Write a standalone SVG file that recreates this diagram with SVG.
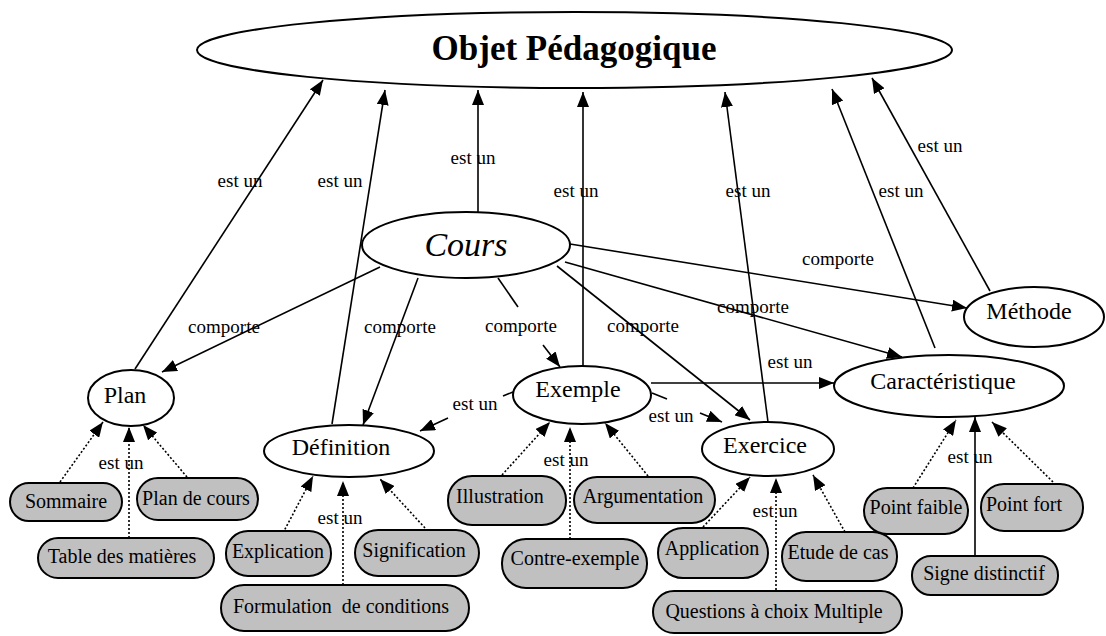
<svg xmlns="http://www.w3.org/2000/svg" width="1106" height="636" viewBox="0 0 1106 636">
  <defs>
    <marker id="arrow" viewBox="0 0 15 12" refX="15" refY="6" markerWidth="15" markerHeight="12" markerUnits="userSpaceOnUse" orient="auto">
      <path d="M0,0 L15,6 L0,12 z" fill="#000"/>
    </marker>
    <style>
      .concept { fill: #fff; stroke: #000; stroke-width: 2; }
      .leaf { fill: #c0c0c0; stroke: #000; stroke-width: 2; }
      .edge { fill: none; stroke: #000; stroke-width: 1.6; }
      .dot { fill: none; stroke: #000; stroke-width: 1.6; stroke-dasharray: 2 2; }
      text { font-family: "Liberation Serif", "Times New Roman", serif; fill: #000; text-anchor: middle; }
      .title { font-size: 35px; font-weight: bold; }
      .cours { font-size: 34px; font-style: italic; }
      .name { font-size: 24px; }
      .leaftext { font-size: 20px; }
      .lbl { font-size: 19px; }
    </style>
  </defs>
  <rect width="1106" height="636" fill="#fff"/>

  <!-- connectors -->
  <g id="connectors">
    <!-- est un : towards Objet Pédagogique -->
    <line class="edge" x1="135" y1="369" x2="323" y2="80" marker-end="url(#arrow)"/>
    <line class="edge" x1="332" y1="424" x2="385" y2="90" marker-end="url(#arrow)"/>
    <line class="edge" x1="478" y1="212" x2="478" y2="90" marker-end="url(#arrow)"/>
    <line class="edge" x1="583" y1="366" x2="583" y2="92" marker-end="url(#arrow)"/>
    <line class="edge" x1="768" y1="422" x2="725" y2="92" marker-end="url(#arrow)"/>
    <line class="edge" x1="935" y1="348" x2="832" y2="89" marker-end="url(#arrow)"/>
    <line class="edge" x1="990" y1="291" x2="872" y2="78" marker-end="url(#arrow)"/>

    <!-- comporte : from Cours -->
    <line class="edge" x1="380" y1="267" x2="162" y2="372" marker-end="url(#arrow)"/>
    <line class="edge" x1="418" y1="278" x2="363" y2="425" marker-end="url(#arrow)"/>
    <line class="edge" x1="498" y1="278" x2="518" y2="307"/>
    <line class="edge" x1="543" y1="345" x2="560" y2="367" marker-end="url(#arrow)"/>
    <line class="edge" x1="557" y1="266" x2="750" y2="420" marker-end="url(#arrow)"/>
    <line class="edge" x1="565" y1="262" x2="902" y2="357" marker-end="url(#arrow)"/>
    <line class="edge" x1="570" y1="244" x2="967" y2="308" marker-end="url(#arrow)"/>

    <!-- est un : from Exemple -->
    <line class="edge" x1="513" y1="392" x2="503" y2="396"/>
    <line class="edge" x1="448" y1="418" x2="420" y2="431" marker-end="url(#arrow)"/>
    <line class="edge" x1="652" y1="393" x2="667" y2="399"/>
    <line class="edge" x1="700" y1="413" x2="722" y2="422" marker-end="url(#arrow)"/>
    <line class="edge" x1="651" y1="383" x2="834" y2="383" marker-end="url(#arrow)"/>

    <!-- est un : Plan -->
    <line class="dot" x1="60" y1="482" x2="103" y2="422" marker-end="url(#arrow)"/>
    <line class="dot" x1="129" y1="538" x2="129" y2="427" marker-end="url(#arrow)"/>
    <line class="dot" x1="187" y1="477" x2="143" y2="425" marker-end="url(#arrow)"/>

    <!-- est un : Définition -->
    <line class="dot" x1="283" y1="533" x2="313" y2="476" marker-end="url(#arrow)"/>
    <line class="dot" x1="343" y1="585" x2="343" y2="481" marker-end="url(#arrow)"/>
    <line class="dot" x1="425" y1="528" x2="380" y2="479" marker-end="url(#arrow)"/>

    <!-- est un : Exemple -->
    <line class="dot" x1="502" y1="475" x2="550" y2="422" marker-end="url(#arrow)"/>
    <line class="dot" x1="570" y1="547" x2="570" y2="427" marker-end="url(#arrow)"/>
    <line class="dot" x1="648" y1="476" x2="605" y2="423" marker-end="url(#arrow)"/>

    <!-- est un : Exercice -->
    <line class="dot" x1="703" y1="527" x2="750" y2="477" marker-end="url(#arrow)"/>
    <line class="dot" x1="776" y1="590" x2="776" y2="478" marker-end="url(#arrow)"/>
    <line class="dot" x1="845" y1="532" x2="813" y2="475" marker-end="url(#arrow)"/>

    <!-- est un : Caractéristique -->
    <line class="dot" x1="913" y1="488" x2="956" y2="420" marker-end="url(#arrow)"/>
    <line class="edge" x1="975" y1="556" x2="975" y2="417" marker-end="url(#arrow)"/>
    <line class="dot" x1="1053" y1="482" x2="992" y2="422" marker-end="url(#arrow)"/>

    <!-- connector labels -->
    <text class="lbl" x="240" y="187">est un</text>
    <text class="lbl" x="340" y="187">est un</text>
    <text class="lbl" x="473" y="164">est un</text>
    <text class="lbl" x="576" y="197">est un</text>
    <text class="lbl" x="748" y="197">est un</text>
    <text class="lbl" x="901" y="197">est un</text>
    <text class="lbl" x="940" y="152">est un</text>
    <text class="lbl" x="224" y="333">comporte</text>
    <text class="lbl" x="400" y="333">comporte</text>
    <text class="lbl" x="521" y="332">comporte</text>
    <text class="lbl" x="643" y="332">comporte</text>
    <text class="lbl" x="753" y="313">comporte</text>
    <text class="lbl" x="838" y="265">comporte</text>
    <text class="lbl" x="475" y="410">est un</text>
    <text class="lbl" x="671" y="422">est un</text>
    <text class="lbl" x="790" y="368">est un</text>
    <text class="lbl" x="121" y="469">est un</text>
    <text class="lbl" x="340" y="524">est un</text>
    <text class="lbl" x="566" y="466">est un</text>
    <text class="lbl" x="775" y="517">est un</text>
    <text class="lbl" x="970" y="463">est un</text>
  </g>

  <!-- concepts -->
  <g id="objet-pedagogique">
    <ellipse class="concept" cx="574.5" cy="50" rx="377.5" ry="38"/>
    <text class="title" x="574" y="60">Objet Pédagogique</text>
  </g>
  <g id="cours">
    <ellipse class="concept" cx="466" cy="245" rx="104" ry="33"/>
    <text class="cours" x="466" y="256">Cours</text>
  </g>
  <g id="plan">
    <ellipse class="concept" cx="131" cy="398" rx="43" ry="28"/>
    <text class="name" x="125" y="403">Plan</text>
  </g>
  <g id="definition">
    <ellipse class="concept" cx="349" cy="451" rx="85" ry="26"/>
    <text class="name" x="341" y="455">Définition</text>
  </g>
  <g id="exemple">
    <ellipse class="concept" cx="582" cy="395" rx="69" ry="29"/>
    <text class="name" x="578" y="397">Exemple</text>
  </g>
  <g id="exercice">
    <ellipse class="concept" cx="768" cy="449" rx="66" ry="27"/>
    <text class="name" x="765" y="453">Exercice</text>
  </g>
  <g id="caracteristique">
    <ellipse class="concept" cx="949" cy="386" rx="115" ry="31"/>
    <text class="name" x="943" y="389">Caractéristique</text>
  </g>
  <g id="methode">
    <ellipse class="concept" cx="1034" cy="317" rx="70" ry="30"/>
    <text class="name" x="1029" y="319">Méthode</text>
  </g>

  <!-- leaf instances -->
  <g id="sommaire">
    <rect class="leaf" x="10" y="483" width="112" height="38" rx="19"/>
    <text class="leaftext" x="66" y="508">Sommaire</text>
  </g>
  <g id="plan-de-cours">
    <rect class="leaf" x="137" y="478" width="121" height="42" rx="21"/>
    <text class="leaftext" x="196" y="505">Plan de cours</text>
  </g>
  <g id="table-des-matieres">
    <rect class="leaf" x="38" y="538" width="176" height="40" rx="20"/>
    <text class="leaftext" x="122" y="563">Table des matières</text>
  </g>
  <g id="explication">
    <rect class="leaf" x="226" y="531" width="105" height="45" rx="22"/>
    <text class="leaftext" x="278" y="558">Explication</text>
  </g>
  <g id="signification">
    <rect class="leaf" x="355" y="530" width="124" height="46" rx="23"/>
    <text class="leaftext" x="414" y="557">Signification</text>
  </g>
  <g id="formulation">
    <rect class="leaf" x="221" y="585" width="248" height="46" rx="23"/>
    <text class="leaftext" x="341" y="613" xml:space="preserve">Formulation  de conditions</text>
  </g>
  <g id="illustration">
    <rect class="leaf" x="448" y="476" width="118" height="49" rx="24"/>
    <text class="leaftext" x="500" y="503">Illustration</text>
  </g>
  <g id="argumentation">
    <rect class="leaf" x="574" y="477" width="141" height="46" rx="23"/>
    <text class="leaftext" x="643" y="503">Argumentation</text>
  </g>
  <g id="contre-exemple">
    <rect class="leaf" x="502" y="539" width="145" height="49" rx="24"/>
    <text class="leaftext" x="575" y="565">Contre-exemple</text>
  </g>
  <g id="application">
    <rect class="leaf" x="658" y="528" width="110" height="50" rx="25"/>
    <text class="leaftext" x="712" y="555">Application</text>
  </g>
  <g id="etude-de-cas">
    <rect class="leaf" x="782" y="532" width="115" height="49" rx="24"/>
    <text class="leaftext" x="838" y="559">Etude de cas</text>
  </g>
  <g id="qcm">
    <rect class="leaf" x="653" y="591" width="249" height="42" rx="21"/>
    <text class="leaftext" x="774" y="618">Questions à choix Multiple</text>
  </g>
  <g id="point-faible">
    <rect class="leaf" x="864" y="488" width="104" height="46" rx="23"/>
    <text class="leaftext" x="916" y="514">Point faible</text>
  </g>
  <g id="point-fort">
    <rect class="leaf" x="981" y="484" width="102" height="47" rx="23"/>
    <text class="leaftext" x="1024" y="511">Point fort</text>
  </g>
  <g id="signe-distinctif">
    <rect class="leaf" x="912" y="556" width="146" height="39" rx="19"/>
    <text class="leaftext" x="984" y="580">Signe distinctif</text>
  </g>
</svg>
